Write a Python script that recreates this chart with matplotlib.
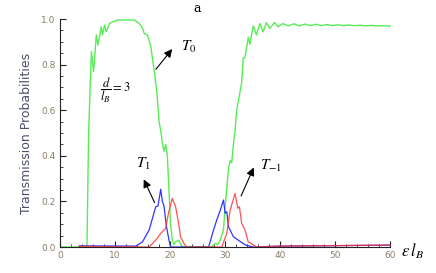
import numpy as np
import matplotlib.pyplot as plt

plt.rcParams["mathtext.fontset"] = "stix"

# T0 (green)
x_t0 = [0, 4.9, 5.2, 5.7, 6.1, 6.6, 6.9, 7.5, 7.7, 8.1, 8.4, 9.0, 9.6, 10.5, 12.3,
        13.5, 14.4, 15.0, 15.3, 15.9, 16.5, 17.1, 17.6, 18.0, 18.3, 18.6, 18.9,
        19.2, 19.5, 19.8, 20.1, 20.4, 20.7, 21.0, 21.6, 22.2, 27.5, 28.2, 28.6,
        29.1, 29.7, 30.0, 30.6, 30.9, 31.2, 31.5, 31.8, 32.1, 33.0, 33.3,
        33.6, 34.2, 34.5, 35.1, 35.7, 36.3, 36.9, 37.5, 38.1, 39.0, 39.6, 40.5,
        41.5, 42.5, 43.5, 44.5, 45.5, 46.5, 47.5, 48.5, 49.5, 50.5, 51.5, 52.5,
        53.5, 54.5, 55.5, 56.5, 57.5, 58.5, 60.0]
y_t0 = [0, 0, 0.5, 0.857, 0.77, 0.93, 0.886, 0.966, 0.93, 0.974, 0.944, 0.98, 0.988,
        0.996, 0.996, 0.996, 0.98, 0.96, 0.937, 0.93, 0.88, 0.776, 0.68, 0.55,
        0.51, 0.456, 0.42, 0.45, 0.40, 0.25, 0.10, 0.03, 0.01, 0.023, 0.03, 0.0,
        0.0, 0.016, 0.01, 0.03, 0.075, 0.177, 0.34, 0.38, 0.37, 0.45, 0.51, 0.6,
        0.72, 0.83, 0.83, 0.92, 0.89, 0.97, 0.93, 0.98, 0.944, 0.984,
        0.959, 0.985, 0.966, 0.98, 0.97, 0.979, 0.97, 0.978, 0.971, 0.977,
        0.971, 0.976, 0.971, 0.975, 0.971, 0.974, 0.971, 0.973, 0.970, 0.972,
        0.970, 0.971, 0.969]

# T1 (blue)
x_t1 = [3.5, 13.8, 15.0, 16.2, 16.8, 17.4, 17.8, 18.3, 18.6, 18.9, 19.3, 19.8,
        20.1, 27.0, 27.9, 28.5, 29.1, 29.7, 30.0, 30.3, 30.6, 31.5, 32.4, 33.6,
        35.0, 40.0, 50.0, 60.0]
y_t1 = [0.005, 0.004, 0.023, 0.075, 0.126, 0.177, 0.18, 0.253, 0.2, 0.18, 0.096,
        0.03, 0.0, 0.0, 0.075, 0.12, 0.16, 0.206, 0.148, 0.155, 0.09, 0.045,
        0.03, 0.01, 0.0, 0.004, 0.006, 0.008]

# T-1 (red)
x_tm1 = [3.5, 16.2, 17.4, 18.3, 19.2, 19.7, 20.4, 21.0, 21.5, 21.9, 22.5, 23.0,
         29.4, 30.3, 30.9, 31.8, 32.3, 32.6, 33.0, 33.6, 34.2, 35.7, 40.0, 50.0,
         60.0]
y_tm1 = [0.003, 0.0, 0.03, 0.06, 0.082, 0.148, 0.213, 0.177, 0.11, 0.045, 0.016,
         0.0, 0.0, 0.06, 0.16, 0.235, 0.17, 0.177, 0.104, 0.075, 0.023, 0.0,
         0.004, 0.006, 0.009]

tick_col = "#8b7e66"

fig = plt.figure(figsize=(4.36, 2.73), dpi=100)
ax = fig.add_axes([0.1376, 0.0952, 0.7638, 0.835])

ax.plot(x_t0, y_t0, color="#55ee55", lw=1.0)
ax.plot(x_t1, y_t1, color="#3333ff", lw=0.9)
ax.plot(x_tm1, y_tm1, color="#ff3333", lw=0.9, alpha=0.85)

ax.set_xlim(0, 60.5)
ax.set_ylim(0, 1.0)
for s in ["top", "right"]:
    ax.spines[s].set_visible(False)
for s in ["left", "bottom"]:
    ax.spines[s].set_color("#222222")
    ax.spines[s].set_linewidth(0.8)
ax.spines["bottom"].set_bounds(0, 60)

ax.set_xticks([0, 10, 20, 30, 40, 50, 60])
ax.set_xticks(np.arange(0, 61, 2), minor=True)
ax.set_yticks([0.0, 0.2, 0.4, 0.6, 0.8, 1.0])
ax.set_yticks(np.arange(0, 1.01, 0.05), minor=True)
ax.set_yticklabels(["0.0", "0.2", "0.4", "0.6", "0.8", "1.0"])
ax.tick_params(which="major", direction="in", length=4, width=0.8,
               color="#222222", labelsize=6.5, labelcolor=tick_col, pad=3)
ax.tick_params(which="minor", direction="in", length=2, width=0.6, color="#222222")

ax.set_ylabel("Transmission Probabilities", fontsize=9, color="#4a5068", labelpad=6)
ax.text(62, -0.02, r"$\epsilon\, l_B$", fontsize=12, ha="left", va="center")
ax.text(24.9, 1.045, "a", fontsize=9, ha="center", va="center", family="serif")

ax.annotate("", xy=(20.7, 0.878), xytext=(17.1, 0.77),
            arrowprops=dict(arrowstyle="-|>", color="black", lw=0.8, mutation_scale=12))
ax.text(23.4, 0.878, r"$T_0$", fontsize=11, ha="center", va="center")

ax.annotate("", xy=(15.0, 0.308), xytext=(17.4, 0.184),
            arrowprops=dict(arrowstyle="-|>", color="black", lw=0.8, mutation_scale=12))
ax.text(15.1, 0.365, r"$T_1$", fontsize=11, ha="center", va="center")

ax.annotate("", xy=(35.4, 0.36), xytext=(32.7, 0.213),
            arrowprops=dict(arrowstyle="-|>", color="black", lw=0.8, mutation_scale=12))
ax.text(38.3, 0.355, r"$T_{-1}$", fontsize=11, ha="center", va="center")

ax.text(10.0, 0.69, r"$\dfrac{d}{l_B}=3$", fontsize=9, ha="center", va="center")

fig.savefig("out.png", dpi=100)
